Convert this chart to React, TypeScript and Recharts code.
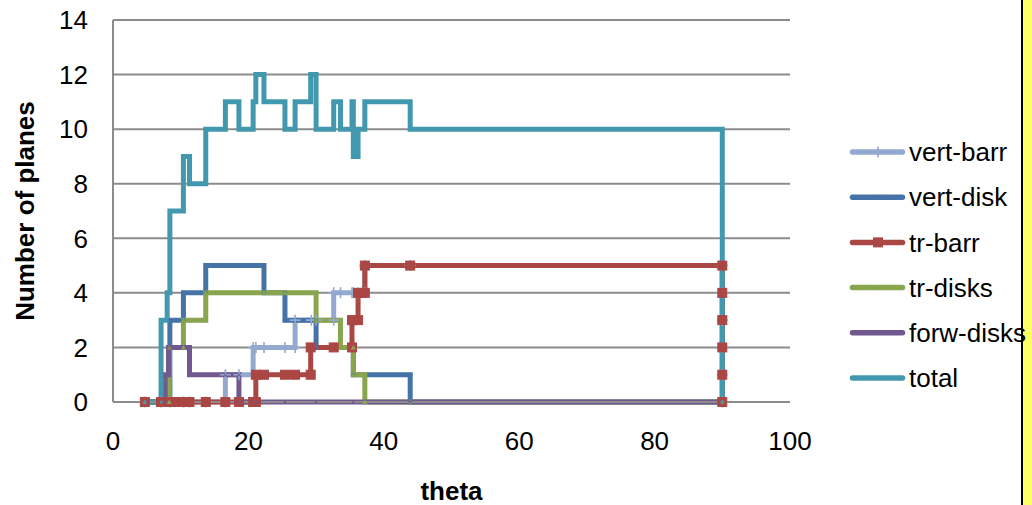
import React from 'react';
import { LineChart, Line, XAxis, YAxis, CartesianGrid, Legend } from 'recharts';

type Pt = [number, number];

const xTicks = [0, 20, 40, 60, 80, 100];
const yTicks = [0, 2, 4, 6, 8, 10, 12, 14];

// [theta, number of planes], corners of each step as in the sheet
const vertBarr: Pt[] = [
  [4.7, 0], [7.1, 0], [8.4, 0], [10.4, 0], [11.3, 0], [13.7, 0], [16.6, 0], [16.6, 1], [18.6, 1],
  [20.7, 1], [20.7, 2], [21.1, 2], [22.3, 2], [25.4, 2], [26.9, 2], [26.9, 3], [29.3, 3], [30.0, 3],
  [32.6, 3], [32.6, 4], [33.6, 4], [35.3, 4], [35.5, 4], [36.2, 4], [37.2, 4], [37.2, 5], [43.9, 5],
  [90, 5], [90, 4], [90, 3], [90, 2], [90, 1], [90, 0],
];
const vertDisk: Pt[] = [
  [4.7, 0], [8.4, 0], [8.4, 3], [10.4, 3], [10.4, 4], [13.7, 4], [13.7, 5], [16.6, 5], [18.6, 5],
  [20.7, 5], [22.3, 5], [22.3, 4], [25.4, 4], [25.4, 3], [30.0, 3], [30.0, 2], [35.5, 2], [35.5, 1],
  [43.9, 1], [43.9, 0], [90, 0],
];
const trBarr: Pt[] = [
  [4.7, 0], [7.1, 0], [8.4, 0], [9.2, 0], [10.4, 0], [11.3, 0], [13.7, 0], [16.6, 0], [18.6, 0],
  [20.7, 0], [21.1, 0], [21.1, 1], [22.3, 1], [25.4, 1], [26.9, 1], [29.2, 1], [29.2, 2], [32.6, 2],
  [35.3, 2], [35.3, 3], [36.2, 3], [36.2, 4], [37.2, 4], [37.2, 5], [43.9, 5], [90, 5], [90, 4],
  [90, 3], [90, 2], [90, 1], [90, 0],
];
const trDisks: Pt[] = [
  [4.7, 0], [8.3, 0], [8.3, 2], [10.4, 2], [10.4, 3], [13.7, 3], [13.7, 4], [16.6, 4], [20.7, 4],
  [22.3, 4], [25.4, 4], [30.0, 4], [30.0, 3], [33.6, 3], [33.6, 2], [35.5, 2], [35.5, 1], [37.2, 1],
  [37.2, 0], [43.9, 0], [90, 0],
];
const forwDisks: Pt[] = [
  [4.7, 0], [7.7, 0], [7.7, 1], [8.2, 1], [8.2, 2], [11.3, 2], [11.3, 1], [16.6, 1], [18.6, 1],
  [18.6, 0], [21.1, 0], [25.4, 0], [30.0, 0], [35.5, 0], [43.9, 0], [90, 0],
];
const total: Pt[] = [
  [4.7, 0], [7.1, 0], [7.1, 3], [8.0, 3], [8.0, 4], [8.4, 4], [8.4, 7], [10.4, 7], [10.4, 9],
  [11.3, 9], [11.3, 8], [13.7, 8], [13.7, 10], [16.6, 10], [16.6, 11], [18.6, 11], [18.6, 10],
  [20.7, 10], [20.7, 11], [21.1, 11], [21.1, 12], [22.3, 12], [22.3, 11], [25.4, 11], [25.4, 10],
  [26.9, 10], [26.9, 11], [29.2, 11], [29.2, 12], [30.0, 12], [30.0, 10], [32.6, 10], [32.6, 11],
  [33.6, 11], [33.6, 10], [35.3, 10], [35.3, 11], [35.5, 11], [35.5, 9], [36.2, 9], [36.2, 10],
  [37.2, 10], [37.2, 11], [43.9, 11], [43.9, 10], [90, 10], [90, 0],
];

const FONT = '"Liberation Sans", Arial, sans-serif';
const GRID = '#8c8c8c';

const series = [
  { name: 'vert-barr', color: '#93A9CF', marker: 'plus', pts: vertBarr },
  { name: 'vert-disk', color: '#4572A7', marker: 'diamond', pts: vertDisk },
  { name: 'tr-barr', color: '#AA4643', marker: 'square', pts: trBarr },
  { name: 'tr-disks', color: '#89A54E', marker: 'triangle', pts: trDisks },
  { name: 'forw-disks', color: '#71588F', marker: 'cross', pts: forwDisks },
  { name: 'total', color: '#4198AF', marker: 'star', pts: total },
];

function Marker({ kind, color, cx, cy }: { kind: string; color: string; cx: number; cy: number }) {
  if (cx == null || cy == null) return null;
  switch (kind) {
    case 'plus':
      return <path d={`M${cx - 5.5},${cy}h11M${cx},${cy - 5.5}v11`} stroke={color} strokeWidth={1.6} fill="none" />;
    case 'square':
      return <rect x={cx - 4.5} y={cy - 4.5} width={9} height={9} fill={color} stroke={color} strokeWidth={1} />;
    case 'diamond':
      return <path d={`M${cx},${cy - 2.5}l2.5,2.5l-2.5,2.5l-2.5,-2.5z`} fill={color} />;
    case 'triangle':
      return <path d={`M${cx},${cy - 2.5}l2.5,4.5h-5z`} fill={color} />;
    case 'cross':
      return <path d={`M${cx - 2},${cy - 2}l4,4M${cx + 2},${cy - 2}l-4,4`} stroke={color} strokeWidth={1} />;
    default:
      return <circle cx={cx} cy={cy} r={1.5} fill={color} />;
  }
}

function LegendBox() {
  return (
    <svg width={192} height={280} style={{ overflow: 'visible', display: 'block' }}>
      {series.map((s, i) => {
        const y = 32 + i * 45.2;
        return (
          <g key={s.name}>
            <line x1={12.5} x2={62.5} y1={y} y2={y} stroke={s.color} strokeWidth={5.5} strokeLinecap="round" />
            <Marker kind={s.marker} color={s.color} cx={38} cy={y} />
            <text x={69} y={y + 9.2} fontSize={26} fontFamily={FONT} fill="#000">
              {s.name}
            </text>
          </g>
        );
      })}
    </svg>
  );
}

export default function App() {
  return (
    <div style={{ position: 'absolute', left: 0, top: 0, width: 1032, height: 505, background: '#fff' }}>
      <div
        style={{
          position: 'absolute',
          left: 1021,
          top: 0,
          width: 9,
          height: 505,
          background: '#FFFF66',
          borderLeft: '2px solid #000',
        }}
      />
      <LineChart
        width={1032}
        height={505}
        margin={{ top: 20, right: 242, bottom: 43, left: 0 }}
        style={{ fontFamily: FONT }}
      >
        <CartesianGrid horizontal vertical={false} stroke={GRID} strokeWidth={2} />
        <XAxis
          type="number"
          dataKey="x"
          domain={[0, 100]}
          ticks={xTicks}
          height={60}
          tickLine={false}
          tickSize={0}
          tickMargin={30}
          axisLine={{ stroke: GRID, strokeWidth: 2 }}
          tick={{ fontSize: 26, fill: '#000', fontFamily: FONT }}
          label={{
            content: ({ viewBox }: any) => (
              <text
                x={viewBox.x + viewBox.width / 2}
                y={viewBox.y + 98}
                textAnchor="middle"
                fontSize={26}
                fontWeight="bold"
                fontFamily={FONT}
                fill="#000"
              >
                theta
              </text>
            ),
          }}
        />
        <YAxis
          type="number"
          domain={[0, 14]}
          ticks={yTicks}
          width={113}
          tickLine={false}
          tickSize={0}
          tickMargin={25}
          axisLine={{ stroke: GRID, strokeWidth: 2 }}
          tick={{ fontSize: 26, fill: '#000', fontFamily: FONT }}
          label={{
            content: ({ viewBox }: any) => {
              const cx = viewBox.x + 25;
              const cy = viewBox.y + viewBox.height / 2;
              return (
                <text
                  x={cx}
                  y={cy}
                  transform={`rotate(-90 ${cx} ${cy})`}
                  textAnchor="middle"
                  dominantBaseline="central"
                  fontSize={26}
                  fontWeight="bold"
                  fontFamily={FONT}
                  fill="#000"
                >
                  Number of planes
                </text>
              );
            },
          }}
        />
        {series.map((s) => (
          <Line
            key={s.name}
            name={s.name}
            data={s.pts.map(([x, y]) => ({ x, y }))}
            dataKey="y"
            type="linear"
            stroke={s.color}
            strokeWidth={5}
            dot={(p: any) => <Marker key={`${s.name}-${p.index}`} kind={s.marker} color={s.color} cx={p.cx} cy={p.cy} />}
            activeDot={false}
            isAnimationActive={false}
          />
        ))}
        <Legend
          layout="vertical"
          align="center"
          verticalAlign="middle"
          content={() => <LegendBox />}
          wrapperStyle={{ left: 840, top: 120, width: 192, height: 280 }}
        />
      </LineChart>
    </div>
  );
}
